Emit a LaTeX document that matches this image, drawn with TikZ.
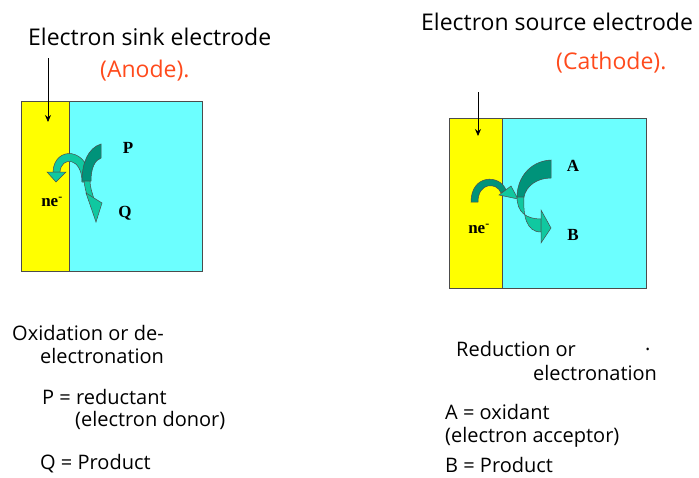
\documentclass[tikz,border=0pt]{standalone}
\usepackage{fontspec}
\usetikzlibrary{arrows.meta}
\setmainfont{Open Sans}
\newfontfamily\serifb{Liberation Serif}
\definecolor{elyel}{HTML}{FFFF00}
\definecolor{elcyan}{HTML}{6CFFFF}
\definecolor{elred}{HTML}{FF4A1C}
\definecolor{dkgreen}{HTML}{00937A}
\definecolor{ltgreen}{HTML}{10C8A0}
\begin{document}
\begin{tikzpicture}[x=1pt,y=-1pt,
  lbl/.style={anchor=west,inner sep=0pt,font=\fontsize{20}{24}\selectfont},
  ttl/.style={anchor=west,inner sep=0pt,font=\fontsize{23}{27}\selectfont},
  chem/.style={inner sep=0pt,font=\serifb\bfseries\fontsize{17}{19}\selectfont},
  band/.style={draw=black!70,line width=0.5pt},
  pointer/.style={-{Stealth[length=7pt,width=6pt]},line width=0.8pt}]
\useasboundingbox (0,0) rectangle (699,477);
% ---------- left electrode ----------
\fill[elcyan] (69,101) rectangle (202,271);
\fill[elyel] (21,101) rectangle (69,271);
\draw[black!70,line width=0.6pt] (21,101) rectangle (202,271);
\draw[black!70,line width=0.6pt] (69,101) -- (69,271);
\node[ttl] (lt) at (28,37) {Electron sink electrode};
\node[ttl,text=elred] (lan) at (100,71) {(Anode).};
\coordinate (la1) at (48,58);
\coordinate (la2) at (48,122);
\draw[pointer] (la1) -- (la2);
\node[chem] (P) at (128,148) {P};
\node[chem] (Q) at (125,213) {Q};
\node[chem] (lne) at (52,202) {ne\textsuperscript{-}};
% arch arrow (left)
\filldraw[band,fill=ltgreen] (90,182) .. controls (90,147) and (54,145) .. (53,172) -- (60,172) .. controls (61,156) and (82,157) .. (82,182) -- cycle;
\filldraw[band,fill=ltgreen] (47,172) -- (66,172) -- (56,182) -- cycle;
% P -> Q arrow
\filldraw[band,fill=dkgreen] (101,144) .. controls (88,148) and (82,163) .. (82,181) -- (91,181) .. controls (91,168) and (95,160) .. (101,158) -- cycle;
\filldraw[band,fill=ltgreen] (84,181) .. controls (85,188) and (86,193) .. (88,197) -- (94,199) .. controls (92,192) and (90,187) .. (90,181) -- cycle;
\filldraw[band,fill=ltgreen] (86,193) -- (102,203) -- (96,222) -- cycle;
% ---------- right electrode ----------
\fill[elcyan] (502,118) rectangle (646,288);
\fill[elyel] (449,118) rectangle (502,288);
\draw[black!70,line width=0.6pt] (449,118) rectangle (646,288);
\draw[black!70,line width=0.6pt] (502,118) -- (502,288);
\node[ttl] (rt) at (421,22) {Electron source electrode};
\node[ttl,text=elred] (rca) at (556,63) {(Cathode).};
\coordinate (ra1) at (478,92);
\coordinate (ra2) at (478,136);
\draw[pointer] (ra1) -- (ra2);
\node[chem] (A) at (573,166) {A};
\node[chem] (B) at (573,235) {B};
\node[chem] (rne) at (479,229) {ne\textsuperscript{-}};
% small arch arrow (right)
\filldraw[band,fill=dkgreen] (471,202) .. controls (471,174) and (500,174) .. (506,190) -- (501,193) .. controls (497,182) and (478,182) .. (478,202) -- cycle;
\filldraw[band,fill=ltgreen] (499,195) -- (511,186) -- (518,199) -- cycle;
% big arrow A -> B
\filldraw[band,fill=dkgreen] (551,160) .. controls (530,161) and (517,178) .. (517,197) -- (524,197) .. controls (526,186) and (537,178) .. (551,178) -- cycle;
\filldraw[band,fill=ltgreen] (517,197) .. controls (517,212) and (526,219) .. (541,219) -- (541,232) .. controls (526,232) and (523,215) .. (524,197) -- cycle;
\filldraw[band,fill=ltgreen] (541,210) -- (551,228) -- (541,243) -- cycle;
% ---------- captions ----------
\node[lbl] (l1) at (12,333) {Oxidation or de-};
\node[lbl] (l2) at (40,356) {electronation};
\node[lbl] (l3) at (42,397) {P = reductant};
\node[lbl] (l4) at (75,420) {(electron donor)};
\node[lbl] (l5) at (40,464) {Q = Product};
\node[lbl] (r1) at (456,349) {Reduction or};
\node[lbl] (rdot) at (645,349) {.};
\node[lbl] (r2) at (533,373) {electronation};
\node[lbl] (r3) at (445,412) {A = oxidant};
\node[lbl] (r4) at (445,437) {(electron acceptor)};
\node[lbl] (r5) at (445,465) {B = Product};
\end{tikzpicture}
\end{document}
